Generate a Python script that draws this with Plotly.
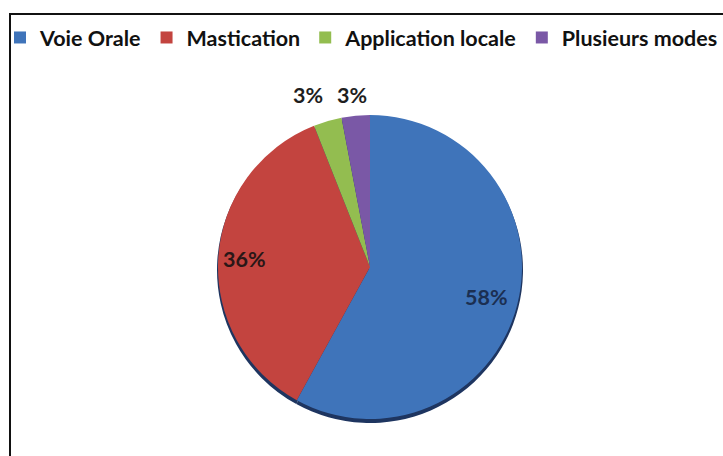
import math
import plotly.graph_objects as go

# Modes of administration and their shares (%)
modes = ["Voie Orale", "Mastication", "Application locale", "Plusieurs modes"]
shares = [58, 36, 3, 3]
slice_colors = ["#3F74BA", "#C3443F", "#93BD50", "#7A58A6"]
label_colors = ["#1B2F52", "#2A1717", "#1E1E1E", "#1E1E1E"]

# label placement: radius as a fraction of the pie radius, plus a pixel nudge
label_radius = [0.79, 0.83, 1.136, 1.136]
label_nudge = [(0, 0), (0, 0), (-14, -6), (-2, 0)]

W, H = 723, 456
cx, cy, r = 370, 267, 152  # pie centre / radius in pixels


def dom_x(c, rad):
    return [(c - rad) / W, (c + rad) / W]


def dom_y(c, rad):
    return [(H - c - rad) / H, (H - c + rad) / H]


fig = go.Figure()

# soft dark rim under the pie
fig.add_trace(go.Pie(
    labels=modes,
    values=shares,
    sort=False,
    direction="clockwise",
    rotation=0,
    marker=dict(colors=["#1E3560"] * 4, line=dict(width=0)),
    textinfo="none",
    hoverinfo="skip",
    showlegend=False,
    domain=dict(x=dom_x(cx, r + 1), y=dom_y(cy + 3, r + 1)),
))

fig.add_trace(go.Pie(
    labels=modes,
    values=shares,
    sort=False,
    direction="clockwise",
    rotation=0,
    marker=dict(colors=slice_colors, line=dict(width=0)),
    textinfo="none",
    domain=dict(x=dom_x(cx, r), y=dom_y(cy, r)),
))

# percentage labels at each slice's mid-angle (clockwise from 12 o'clock)
total = sum(shares)
annotations = []
start = 0.0
for v, col, k, (nx, ny) in zip(shares, label_colors, label_radius, label_nudge):
    span = 360.0 * v / total
    mid = math.radians(start + span / 2)
    start += span
    px = cx + k * r * math.sin(mid) + nx
    py = cy - k * r * math.cos(mid) + ny
    annotations.append(dict(
        x=px / W,
        y=1 - py / H,
        xref="paper",
        yref="paper",
        text=f"{round(100 * v / total)}%",
        showarrow=False,
        xanchor="center",
        yanchor="middle",
        font=dict(family="Lato", size=21.5, color=col, weight="bold"),
    ))

fig.update_layout(
    width=W,
    height=H,
    margin=dict(l=0, r=0, t=0, b=0),
    paper_bgcolor="white",
    plot_bgcolor="white",
    annotations=annotations,
    legend=dict(
        orientation="h",
        x=0.006,
        y=1 - 17 / H,
        xanchor="left",
        yanchor="top",
        font=dict(family="Lato", size=21.5, color="#111111", weight="bold"),
        itemwidth=30,
        traceorder="normal",
        bgcolor="rgba(0,0,0,0)",
    ),
    shapes=[
        dict(
            type="rect",
            xref="paper",
            yref="paper",
            x0=10 / W,
            x1=1.05,
            y0=-0.05,
            y1=1 - 14 / H,
            line=dict(color="#111111", width=2),
            fillcolor="rgba(0,0,0,0)",
        )
    ],
)

fig.write_html("out.html")
